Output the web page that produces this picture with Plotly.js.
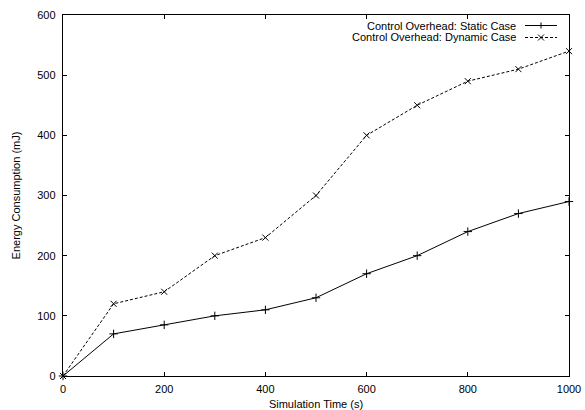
<!DOCTYPE html>
<html>
<head>
<meta charset="utf-8">
<script src="https://cdn.plot.ly/plotly-3.0.1.min.js"></script>
<style>html,body{margin:0;padding:0;background:#fff;}#chart{width:585px;height:410px;}</style>
</head>
<body>
<div id="chart"></div>
<script>
const simTime = [0, 100, 200, 300, 400, 500, 600, 700, 800, 900, 1000];
const staticCase = [0, 70, 85, 100, 110, 130, 170, 200, 240, 270, 290];
const dynamicCase = [0, 120, 140, 200, 230, 300, 400, 450, 490, 510, 540];
const seriesNames = ['Control Overhead: Static Case', 'Control Overhead: Dynamic Case'];
const xTicks = [0, 200, 400, 600, 800, 1000];
const yTicks = [0, 100, 200, 300, 400, 500, 600];

const W = 585, H = 410;
const M = {l: 63, r: 16, t: 15, b: 34};
const pw = W - M.l - M.r, ph = H - M.t - M.b;
const px = x => (x - M.l) / pw;
const py = y => (H - M.b - y) / ph;

const font = {family: 'Liberation Sans, Arial, Helvetica, sans-serif', size: 11, color: '#000'};

const traces = [
  {x: simTime, y: staticCase, name: seriesNames[0], mode: 'lines+markers', type: 'scatter',
   line: {color: '#000', width: 1}, marker: {symbol: 'cross-thin', size: 6, color: '#000', line: {color: '#000', width: 1}}, cliponaxis: false},
  {x: simTime, y: dynamicCase, name: seriesNames[1], mode: 'lines+markers', type: 'scatter',
   line: {color: '#000', width: 1, dash: '3px,2px'}, marker: {symbol: 'x-thin', size: 6, color: '#000', line: {color: '#000', width: 1}}, cliponaxis: false}
];

// legend (gnuplot style: text right, sample on the right)
const rows = [25.5, 37.5];
const textRight = 517, lineL = 525, lineR = 557, mid = (lineL + lineR) / 2;
const annotations = seriesNames.map((n, i) => ({
  xref: 'paper', yref: 'paper', x: px(textRight), y: py(rows[i]), xanchor: 'right', yanchor: 'middle',
  text: n, showarrow: false, font: font, borderpad: 0
}));
const shapes = [];
rows.forEach((r, i) => {
  shapes.push({type: 'line', xref: 'paper', yref: 'paper', x0: px(lineL), x1: px(lineR), y0: py(r), y1: py(r),
    line: {color: '#000', width: 1, dash: i === 1 ? '3px,2px' : 'solid'}});
  const s = 3;
  if (i === 0) {
    shapes.push({type: 'path', xref: 'paper', yref: 'paper',
      path: `M${px(mid - s)},${py(r)}L${px(mid + s)},${py(r)}M${px(mid)},${py(r - s)}L${px(mid)},${py(r + s)}`,
      line: {color: '#000', width: 1}});
  } else {
    shapes.push({type: 'path', xref: 'paper', yref: 'paper',
      path: `M${px(mid - s)},${py(r - s)}L${px(mid + s)},${py(r + s)}M${px(mid - s)},${py(r + s)}L${px(mid + s)},${py(r - s)}`,
      line: {color: '#000', width: 1}});
  }
});

const layout = {
  width: W, height: H,
  margin: {l: M.l, r: M.r, t: M.t, b: M.b, pad: 0},
  paper_bgcolor: '#fff', plot_bgcolor: '#fff',
  font: font,
  showlegend: false,
  xaxis: {range: [0, 1000], tickvals: xTicks, ticks: 'inside', ticklen: 4, tickcolor: '#000', tickwidth: 1,
    showline: true, linecolor: '#000', linewidth: 1.3, mirror: 'ticks', showgrid: false, zeroline: false,
    tickfont: font, ticklabelstandoff: 2,
    title: {text: 'Simulation Time (s)', font: font, standoff: 6}},
  yaxis: {range: [0, 600], tickvals: yTicks, ticks: 'inside', ticklen: 4, tickcolor: '#000', tickwidth: 1,
    showline: true, linecolor: '#000', linewidth: 1.3, mirror: 'ticks', showgrid: false, zeroline: false,
    tickfont: font, ticklabelstandoff: 4,
    title: {text: 'Energy Consumption (mJ)', font: font, standoff: 14}},
  annotations: annotations,
  shapes: shapes
};

Plotly.newPlot('chart', traces, layout, {displayModeBar: false, staticPlot: true});
</script>
</body>
</html>
